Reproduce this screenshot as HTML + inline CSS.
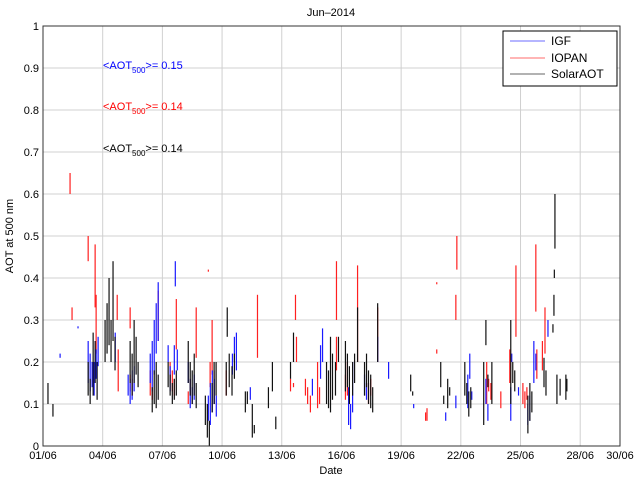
<!DOCTYPE html>
<html><head><meta charset="utf-8"><style>
body{margin:0;background:#fff;}
svg{display:block;font-family:"Liberation Sans",sans-serif;}
</style></head><body>
<svg id="chart" width="640" height="480">
<rect x="0" y="0" width="640" height="480" fill="#fff"/>
<g id="grid"></g>
<g id="marks"></g>
<g id="axes"></g>
<text x="331" y="16" font-size="11" text-anchor="middle">Jun–2014</text>
<text x="331" y="474" font-size="11" text-anchor="middle">Date</text>
<text transform="translate(13,236) rotate(-90)" font-size="11" text-anchor="middle">AOT at 500 nm</text>
<text x="103" y="69" font-size="11" fill="#0000ff">&lt;AOT<tspan font-size="8" dy="4">500</tspan><tspan dy="-4">&gt;= 0.15</tspan></text>
<text x="103" y="110" font-size="11" fill="#ff0000">&lt;AOT<tspan font-size="8" dy="4">500</tspan><tspan dy="-4">&gt;= 0.14</tspan></text>
<text x="103" y="152" font-size="11" fill="#000">&lt;AOT<tspan font-size="8" dy="4">500</tspan><tspan dy="-4">&gt;= 0.14</tspan></text>
<g>
<rect x="503" y="31" width="114" height="55" fill="#fff" stroke="#000" stroke-width="1"/>
<line x1="510" y1="41" x2="545" y2="41" stroke="#6b6bff"/>
<text x="551" y="45" font-size="12">IGF</text>
<line x1="510" y1="58" x2="545" y2="58" stroke="#ff6b6b"/>
<text x="551" y="62" font-size="12">IOPAN</text>
<line x1="510" y1="74" x2="545" y2="74" stroke="#666"/>
<text x="551" y="78" font-size="12">SolarAOT</text>
</g>
</svg>
<script>
const xTickDays=[1,4,7,10,13,16,19,22,25,28,30];
const xTickLabels=["01/06","04/06","07/06","10/06","13/06","16/06","19/06","22/06","25/06","28/06","30/06"];
const yTicks=[0,0.1,0.2,0.3,0.4,0.5,0.6,0.7,0.8,0.9,1];
const yTickLabels=["0","0.1","0.2","0.3","0.4","0.5","0.6","0.7","0.8","0.9","1"];
const blackDays=[1.25,1.5,3.27,3.37,3.52,3.62,3.72,4.12,4.22,4.32,4.42,4.52,4.62,5.38,5.48,5.58,5.68,5.78,6.49,6.59,6.69,6.79,7.29,7.39,7.5,7.6,7.7,8.3,8.4,8.5,8.6,8.7,9.16,9.26,9.36,9.5,9.6,9.7,10.21,10.26,10.36,10.5,10.62,11.17,11.27,11.52,11.62,12.33,12.53,12.7,13.44,13.59,15.25,15.35,15.45,15.55,15.7,15.85,16.2,16.3,16.4,16.56,16.66,16.81,17.16,17.26,17.36,17.47,17.57,17.82,19.48,19.58,20.99,21.14,21.34,21.44,22.2,22.3,22.4,22.5,23.15,23.26,23.36,23.56,24.51,24.61,24.71,25.37,25.47,25.57,26.18,26.28,26.63,26.68,26.7,26.73,26.83,26.99,27.28,27.33];
const blackLow=[.10,.07,.12,.10,.12,.15,.11,.2,.22,.24,.2,.25,.18,.15,.12,.15,.17,.14,.08,.1,.09,.11,.14,.12,.1,.11,.12,.15,.12,.1,.12,.09,.05,.02,0,.08,.1,.12,.12,.26,.14,.12,.16,.08,.1,.02,.03,.09,.13,.04,.16,.2,.1,.09,.08,.11,.12,.2,.13,.14,.1,.12,.15,.2,.12,.14,.1,.09,.08,.2,.13,.12,.14,.1,.09,.12,.12,.1,.07,.09,.05,.24,.14,.1,.1,.15,.13,.03,.06,.08,.14,.12,.27,.31,.4,.47,.1,.12,.11,.13];
const blackHigh=[.15,.10,.2,.16,.27,.25,.2,.3,.34,.4,.3,.44,.26,.25,.22,.3,.26,.2,.14,.18,.2,.17,.2,.17,.15,.16,.18,.25,.2,.18,.22,.15,.12,.1,.06,.15,.2,.2,.2,.33,.22,.19,.22,.13,.13,.1,.05,.14,.2,.07,.2,.27,.2,.18,.26,.22,.2,.26,.25,.22,.19,.2,.22,.33,.2,.22,.18,.17,.14,.34,.17,.13,.2,.12,.16,.14,.2,.15,.13,.14,.2,.3,.17,.2,.3,.2,.18,.12,.15,.13,.21,.18,.29,.36,.42,.6,.17,.16,.17,.16];
const blueDays=[1.86,2.76,3.27,3.37,3.47,3.57,3.67,3.77,4.63,5.28,5.38,5.48,5.58,6.39,6.49,6.59,6.69,6.79,7.29,7.39,7.6,7.65,7.75,8.3,8.4,8.5,8.6,9.31,9.41,9.51,9.61,9.71,10.52,10.62,10.72,11.42,14.54,14.95,15.05,16.36,16.46,16.56,17.16,17.26,17.82,18.37,19.63,21.24,21.75,22.35,22.45,22.55,23.26,23.36,24.51,24.56,24.9,25.37,25.47,25.67,25.77,26.38];
const blueLow=[.21,.28,.15,.13,.14,.12,.16,.19,.2,.12,.1,.11,.13,.15,.13,.17,.22,.25,.2,.13,.17,.38,.18,.15,.09,.1,.11,.06,.05,.08,.1,.07,.17,.2,.18,.11,.12,.16,.2,.05,.04,.08,.12,.11,.2,.16,.09,.06,.09,.09,.16,.11,.1,.06,.06,.2,.12,.05,.06,.15,.18,.26];
const blueHigh=[.22,.285,.25,.22,.2,.2,.23,.26,.27,.17,.16,.18,.19,.22,.25,.3,.34,.39,.24,.19,.24,.44,.23,.2,.16,.14,.17,.12,.15,.18,.16,.12,.22,.26,.27,.14,.16,.24,.28,.14,.1,.2,.17,.15,.26,.2,.1,.08,.12,.17,.22,.13,.16,.1,.14,.22,.14,.1,.12,.25,.22,.3];
const redDays=[2.36,2.46,3.27,3.62,3.67,3.57,4.73,4.78,5.38,5.38,5.48,6.39,6.49,6.79,7.39,7.5,7.6,7.7,8.3,8.4,8.7,9.31,9.4,9.5,9.6,10.21,11.78,13.44,13.59,13.69,13.74,14.19,14.3,14.44,14.8,14.9,15.75,15.75,16.2,16.3,16.81,17.36,17.47,17.82,20.23,20.3,20.79,20.79,21.8,21.75,23.3,23.4,23.51,24.01,24.46,24.77,25.12,25.22,25.32,25.82,25.77,26.23,26.1];
const redLow=[.6,.3,.44,.33,.22,.15,.3,.13,.28,.13,.12,.12,.11,.25,.15,.13,.12,.23,.1,.12,.21,.415,.14,.17,.1,.12,.21,.13,.14,.3,.2,.12,.1,.08,.09,.1,.18,.3,.11,.12,.2,.1,.12,.2,.06,.06,.22,.385,.42,.3,.1,.13,.11,.09,.15,.26,.1,.09,.11,.16,.32,.22,.18];
const redHigh=[.65,.33,.5,.48,.36,.2,.36,.23,.33,.17,.16,.18,.14,.37,.2,.18,.16,.35,.13,.16,.33,.42,.2,.3,.18,.18,.36,.16,.15,.36,.26,.16,.14,.12,.2,.14,.26,.44,.17,.2,.43,.15,.16,.33,.08,.09,.23,.39,.5,.36,.2,.16,.15,.13,.23,.43,.15,.13,.14,.23,.48,.33,.25];

const L=43,R=620,T=26,B=446;
const xs=d=>L+(d-1)*(R-L)/29;
const ys=v=>B-v*(B-T);
const NS="http://www.w3.org/2000/svg";
function mk(tag,attrs,parent){const e=document.createElementNS(NS,tag);for(const k in attrs)e.setAttribute(k,attrs[k]);parent.appendChild(e);return e;}
const grid=document.getElementById('grid'),axes=document.getElementById('axes'),marks=document.getElementById('marks');
xTickDays.forEach((d,i)=>{
  const gl=mk('line',{x1:xs(d),x2:xs(d),y1:T,y2:B,stroke:'#d0d0d0','stroke-width':1},grid);
  
  
  const t=mk('text',{x:xs(d),y:B+13,'font-size':11,'text-anchor':'middle'},axes);
  t.textContent=xTickLabels[i];
  
  
});
yTicks.forEach((v,i)=>{
  const gl=mk('line',{x1:L,x2:R,y1:ys(v),y2:ys(v),stroke:'#d0d0d0','stroke-width':1},grid);
  
  
  const t=mk('text',{x:L-4,y:ys(v)+4,'font-size':11,'text-anchor':'end'},axes);
  t.textContent=yTickLabels[i];
  
  
});
const frame=mk('rect',{x:L,y:T,width:R-L,height:B-T,fill:'none',stroke:'#333','stroke-width':1},axes);


function series(days,lo,hi,color,name){
  days.forEach((d,i)=>{
    const y1=ys(hi[i]),y2=ys(lo[i]);
    const l=mk('line',{x1:xs(d),x2:xs(d),y1:y1,y2:Math.max(y2,y1+1.5),stroke:color,'stroke-width':1.2},marks);
    
    
  });
}
series(redDays,redLow,redHigh,'#ff2020','iopan-segment');
series(blueDays,blueLow,blueHigh,'#1a1aff','igf-segment');
series(blackDays,blackLow,blackHigh,'#111','solaraot-segment');
</script>
</body></html>
